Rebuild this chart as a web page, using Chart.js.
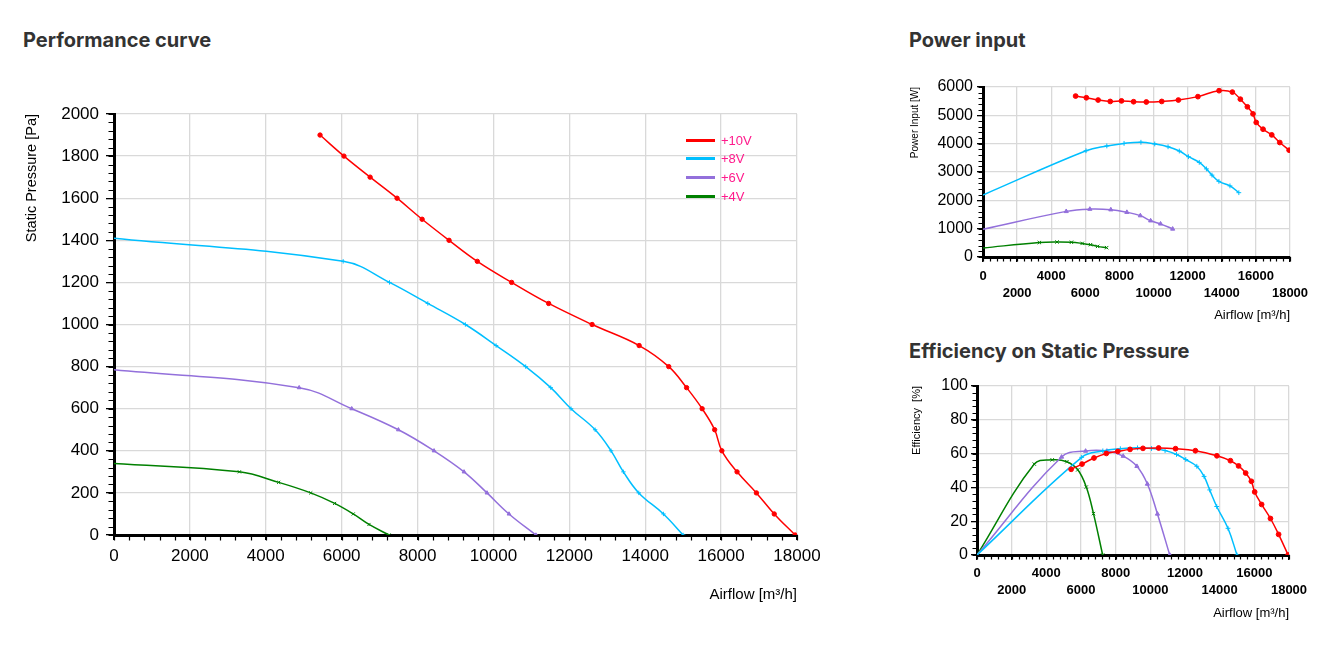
<!DOCTYPE html>
<html>
<head>
<meta charset="utf-8">
<title>Performance curve</title>
<script src="https://cdn.jsdelivr.net/npm/chart.js@4.4.1/dist/chart.umd.min.js"></script>
<style>
  body { margin: 0; width: 1340px; height: 657px; background: #fff; position: relative; overflow: hidden; }
  .heading { position: absolute; font-family: Inter, "Open Sans", sans-serif; font-weight: 700; font-size: 20px; line-height: 24px; color: #333; }
  .box { position: absolute; }
  #legend { position: absolute; left: 686px; top: 131px; font-family: "Liberation Sans", Arial, sans-serif; font-size: 13px; color: #ff1a8c; }
  #legend div { height: 18.6px; display: flex; align-items: center; }
  #legend span.line { display: inline-block; width: 29px; height: 3px; margin-right: 6px; }
</style>
</head>
<body>
<div class="heading" style="left:23px; top:28px;">Performance curve</div>
<div class="heading" style="left:909px; top:28px;">Power input</div>
<div class="heading" style="left:909px; top:339px;">Efficiency on Static Pressure</div>

<div class="box" style="left:0; top:100px; width:840px; height:520px;"><canvas id="perf"></canvas></div>
<div class="box" style="left:900px; top:70px; width:420px; height:260px;"><canvas id="power"></canvas></div>
<div class="box" style="left:900px; top:370px; width:420px; height:260px;"><canvas id="eff"></canvas></div>
<div id="legend"></div>

<script>
// series labels and colours
const voltages = ['+10V', '+8V', '+6V', '+4V'];
const colors = ['#ff0000', '#00bfff', '#9370db', '#008000'];
const markers = ['circle', 'cross', 'triangle', 'crossRot'];

// airflow [m3/h] per curve
const flow10 = [5430, 6060, 6750, 7460, 8120, 8830, 9575, 10480, 11455, 12600, 13840, 14620, 15090, 15500, 15830, 16020, 16420, 16930, 17400, 17950];
const flow8 = [0, 6040, 7260, 8270, 9260, 10070, 10850, 11510, 12045, 12680, 13100, 13425, 13830, 14480, 15000];
const flow6 = [0, 4880, 6265, 7495, 8435, 9225, 9830, 10410, 11120];
const flow4 = [0, 3305, 4340, 5185, 5815, 6305, 6720, 7250];

// static pressure [Pa]
const pressure10 = [1900, 1800, 1700, 1600, 1500, 1400, 1300, 1200, 1100, 1000, 900, 800, 700, 600, 500, 400, 300, 200, 100, 0];
const pressure8 = [1410, 1300, 1200, 1100, 1000, 900, 800, 700, 600, 500, 400, 300, 200, 100, 0];
const pressure6 = [785, 700, 600, 500, 400, 300, 200, 100, 0];
const pressure4 = [340, 300, 250, 200, 150, 100, 50, 0];

// power input [W]
const power10 = [5680, 5620, 5540, 5490, 5510, 5480, 5470, 5490, 5540, 5660, 5870, 5820, 5570, 5300, 5050, 4750, 4510, 4310, 4040, 3770];
const power8 = [2190, 3750, 3920, 4010, 4050, 3990, 3890, 3740, 3540, 3340, 3110, 2890, 2670, 2510, 2270];
const power6 = [980, 1610, 1690, 1670, 1580, 1460, 1280, 1170, 990];
const power4 = [320, 510, 530, 520, 480, 435, 375, 330];

// efficiency on static pressure [%]
const eff10 = [50.7, 53.8, 57.4, 60.1, 61.3, 62.5, 63.1, 63.3, 62.9, 61.7, 58.7, 55.8, 52.7, 48.5, 43.6, 37.3, 29.9, 21.6, 12.2, 0];
const eff8 = [0, 57.8, 61.6, 62.9, 63.4, 63.0, 61.8, 59.5, 56.5, 52.5, 46.5, 38.5, 28.7, 15.8, 0];
const eff6 = [0, 58, 61.5, 61.5, 58.5, 52.5, 42, 24.3, 0];
const eff4 = [0, 53.8, 56.3, 55.2, 50.4, 40.2, 24.5, 0];

// tick values
const flowTicks = [0, 2000, 4000, 6000, 8000, 10000, 12000, 14000, 16000, 18000];
const pressureTicks = [0, 200, 400, 600, 800, 1000, 1200, 1400, 1600, 1800, 2000];
const powerTicks = [0, 1000, 2000, 3000, 4000, 5000, 6000];
const effTicks = [0, 20, 40, 60, 80, 100];

const flows = [flow10, flow8, flow6, flow4];

Chart.defaults.font.family = '"Liberation Sans", Arial, sans-serif';
Chart.defaults.color = '#000';

// small ticks between the labelled ones
const minorTicks = {
  id: 'minorTicks',
  afterDraw(chart, args, opts) {
    const {ctx, chartArea} = chart;
    const sx = chart.scales.x, sy = chart.scales.y;
    ctx.save();
    ctx.strokeStyle = '#000';
    ctx.lineWidth = 1.2;
    ctx.beginPath();
    for (let v = sx.min; v <= sx.max + 0.001; v += opts.x) {
      const px = Math.round(sx.getPixelForValue(v)) + 0.5;
      ctx.moveTo(px, chartArea.bottom);
      ctx.lineTo(px, chartArea.bottom + 1.5 + opts.len);
    }
    for (let v = sy.min; v <= sy.max + 0.001; v += opts.y) {
      const py = Math.round(sy.getPixelForValue(v)) + 0.5;
      ctx.moveTo(chartArea.left, py);
      ctx.lineTo(chartArea.left - 1.5 - opts.len, py);
    }
    ctx.stroke();
    ctx.restore();
  }
};

function series(values, radius) {
  return voltages.map((label, i) => ({
    label: label,
    data: flows[i].map((x, j) => ({x: x, y: values[i][j]})),
    borderColor: colors[i],
    backgroundColor: colors[i],
    borderWidth: 1.5,
    pointStyle: markers[i],
    pointRadius: c => (c.raw && c.raw.x === 0) ? 0 : radius,
    pointBorderWidth: 1,
    tension: 0.4,
    fill: false
  }));
}

function axes(o) {
  return {
    x: {
      type: 'linear', min: 0, max: 18000,
      afterBuildTicks: s => { s.ticks = flowTicks.map(v => ({value: v})); },
      afterFit: s => { s.height = o.xHeight; },
      grid: {color: '#d9d9d9', lineWidth: 1.3, tickLength: 5, tickColor: '#000'},
      border: {color: '#000', width: 3},
      ticks: {autoSkip: false, maxRotation: 0, minRotation: 0, padding: o.xPad,
              font: {size: o.xFont, weight: o.xWeight, lineHeight: 1.38}, callback: o.xLabel},
      title: {display: true, text: 'Airflow [m³/h]', align: 'end',
              font: {size: o.xTitleSize}, padding: {top: 0, bottom: o.xTitlePad}}
    },
    y: {
      type: 'linear', min: o.yTicks[0], max: o.yTicks[o.yTicks.length - 1],
      afterBuildTicks: s => { s.ticks = o.yTicks.map(v => ({value: v})); },
      afterFit: s => { s.width = o.yWidth; },
      grid: {color: '#d9d9d9', lineWidth: 1.3, tickLength: o.yTickLen, tickColor: '#000'},
      border: {color: '#000', width: 3},
      ticks: {padding: o.yPad, font: {size: o.yFont, lineHeight: 0.8}, callback: v => String(v)},
      title: {display: true, text: o.yTitle, align: 'end',
              font: {size: o.yTitleSize}, padding: {top: o.yTitlePad, bottom: 0}}
    }
  };
}

function makeChart(id, datasets, scales, padding, minor) {
  return new Chart(document.getElementById(id), {
    type: 'line',
    data: {datasets: datasets},
    options: {
      responsive: true,
      maintainAspectRatio: false,
      animation: false,
      layout: {padding: padding},
      scales: scales,
      plugins: {legend: {display: false}, tooltip: {enabled: false}, minorTicks: minor}
    },
    plugins: [minorTicks]
  });
}

const stagger = (v, i) => (i % 2 ? ['', String(v)] : [String(v), '']);

makeChart('perf', series([pressure10, pressure8, pressure6, pressure4], 2.2),
  axes({xHeight: 85, xPad: 5, xFont: 17, xWeight: 'normal', xLabel: v => String(v), xTitleSize: 15, xTitlePad: 16,
        yTicks: pressureTicks, yWidth: 114, yTickLen: 8, yPad: 7, yFont: 17,
        yTitle: 'Static Pressure [Pa]', yTitleSize: 14.5, yTitlePad: 23}),
  {top: 14, right: 43, left: 0, bottom: 0}, {x: 400, y: 40, len: 4});

makeChart('power', series([power10, power8, power6, power4], 2.4),
  axes({xHeight: 73, xPad: 5, xFont: 13, xWeight: 'bold', xLabel: stagger, xTitleSize: 13, xTitlePad: 7,
        yTicks: powerTicks, yWidth: 83, yTickLen: 6, yPad: 4, yFont: 16,
        yTitle: 'Power Input [W]', yTitleSize: 10, yTitlePad: 9}),
  {top: 17, right: 30, left: 0, bottom: 0}, {x: 400, y: 200, len: 3});

makeChart('eff', series([eff10, eff8, eff6, eff4], 2.4),
  axes({xHeight: 75, xPad: 4, xFont: 13, xWeight: 'bold', xLabel: stagger, xTitleSize: 13, xTitlePad: 9,
        yTicks: effTicks, yWidth: 77, yTickLen: 6, yPad: 3, yFont: 16,
        yTitle: 'Efficiency  [%]', yTitleSize: 11, yTitlePad: 10}),
  {top: 16, right: 31, left: 0, bottom: 0}, {x: 400, y: 4, len: 3});

// legend of the performance chart
const legend = document.getElementById('legend');
voltages.forEach((label, i) => {
  const row = document.createElement('div');
  const line = document.createElement('span');
  line.className = 'line';
  line.style.background = colors[i];
  row.appendChild(line);
  row.appendChild(document.createTextNode(label));
  legend.appendChild(row);
});
</script>
</body>
</html>
